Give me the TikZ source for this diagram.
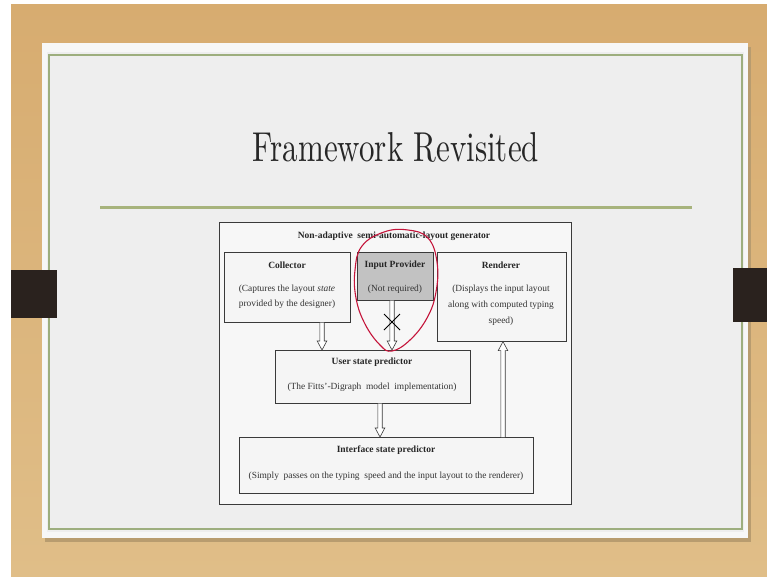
\documentclass[tikz,border=0pt]{standalone}
\usepackage{fontspec}
\setmainfont{Liberation Serif}
\newfontfamily\titlefont{Latin Modern Roman}
\usetikzlibrary{calc}
\definecolor{wood}{HTML}{E0BE88}
\definecolor{woodtop}{HTML}{D7AC70}
\definecolor{slide}{HTML}{EEEEEE}
\definecolor{sliderim}{HTML}{F7F7F7}
\definecolor{frame}{HTML}{9DAE7E}
\definecolor{rulegreen}{HTML}{A7B37C}
\definecolor{tab}{HTML}{2A221E}
\definecolor{ink}{HTML}{3A3A3A}
\definecolor{pen}{HTML}{C4143A}
\tikzset{
  box/.style={draw=ink, line width=0.6pt, fill=white!96!black, anchor=north west, inner sep=0pt},
  greybox/.style={box, fill=black!24},
  ttl/.style={font=\fontsize{9.5}{11}\selectfont\bfseries, text=black!85, inner sep=0pt},
  body/.style={font=\fontsize{9.4}{11}\selectfont, text=black!80, inner sep=0pt},
  hollowline/.style={draw=ink, line width=0.6pt, fill=white, line join=miter},
}
% outlined block arrow running vertically from #1 to #2
\newcommand\blockarrow[2]{%
  \filldraw[hollowline] let \p1=#1, \p2=#2, \n1={sign(\y2-\y1)} in
    ({\x1-2.2pt},\y1) -- ({\x1-2.2pt},{\y2-\n1*9pt}) -- ({\x1-4.8pt},{\y2-\n1*9pt})
    -- (\x1,\y2) -- ({\x1+4.8pt},{\y2-\n1*9pt}) -- ({\x1+2.2pt},{\y2-\n1*9pt})
    -- ({\x1+2.2pt},\y1);}
\begin{document}
\begin{tikzpicture}[x=1pt, y=-1pt]
\useasboundingbox (0,0) rectangle (767,576);
% desk and slide
\fill[white] (0,0) rectangle (767,576);
\shade[top color=woodtop, bottom color=wood] (11,4) rectangle (767,576);
\fill[black!18!wood] (45,47) rectangle (751,542);
\fill[sliderim] (42,43) rectangle (748,538);
\fill[slide] (47,52) rectangle (744,532);
\draw[frame, line width=1.4pt] (49,55) rectangle (742,529);
\draw[rulegreen, line width=3pt] (100,207) -- (692,207);
% binder tabs
\fill[tab] (11,270) rectangle (57,318);
\fill[tab] (733,268) rectangle (767,322);
% heading
\node[anchor=base, inner sep=0pt, text=black!85] (heading) at (396,161)
  {\resizebox{286pt}{29pt}{\titlefont Framework Revisited}};
% outer container
\draw[ink, line width=0.6pt, fill=white!97!black] (219,222) rectangle (571,504);
\node[ttl] (gen) at (394,236) {Non-adaptive\ \ semi-automatic-layout generator};
% component boxes
\node[box, minimum width=126pt, minimum height=70pt] (coll) at (224,252) {};
\node[greybox, minimum width=76pt, minimum height=48pt] (inp) at (357,252) {};
\node[box, minimum width=129pt, minimum height=89pt] (rend) at (437,252) {};
\node[box, minimum width=195pt, minimum height=53pt] (user) at (275,350) {};
\node[box, minimum width=294pt, minimum height=56pt] (iface) at (239,437) {};
% box texts
\node[ttl] (collT) at (287,265) {Collector};
\node[body] (collB1) at (287,289) {(Captures the layout \textit{state}};
\node[body] (collB2) at (287,304) {provided by the designer)};
\node[ttl] (inpT) at (395,265) {Input Provider};
\node[body] (inpB) at (395,289) {(Not required)};
\node[ttl] (rendT) at (501,265) {Renderer};
\node[body] (rendB1) at (501,289) {(Displays\ the\ input\ layout};
\node[body] (rendB2) at (501,305) {along\ with\ computed\ typing};
\node[body] (rendB3) at (501,321) {speed)};
\node[ttl] (userT) at (372,362) {User state predictor};
\node[body] (userB) at (372,387) {(The Fitts'-Digraph\ \ model\ \ implementation)};
\node[ttl] (ifaceT) at (386,450) {Interface state predictor};
\node[body] (ifaceB) at (386,476) {(Simply\ \ passes on the typing\ \ speed and the input layout to the renderer)};
% data flow
\blockarrow{(322,0 |- coll.south)}{(322,0 |- user.north)}
\blockarrow{(392,0 |- inp.south)}{(392,0 |- user.north)}
\blockarrow{(380,0 |- user.south)}{(380,0 |- iface.north)}
\blockarrow{(503,0 |- iface.north)}{(503,0 |- rend.south)}
% cross on the unused link
\draw[black, line width=0.8pt] (384,314) -- (400,330) (384,330) -- (400,314);
% hand-drawn marking
\draw[pen, line width=1.1pt, line cap=round] plot[smooth cycle, tension=0.7] coordinates
  {(384,232) (408,230) (428,238) (437,262) (436,292) (427,318) (410,340) (392,351) (380,345) (365,324) (356,298) (355,270) (362,246)};
\end{tikzpicture}
\end{document}
